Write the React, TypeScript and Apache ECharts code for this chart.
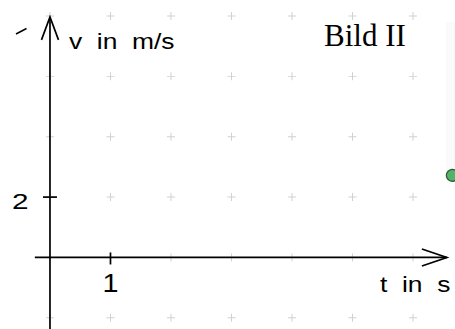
import React, { useEffect, useRef } from "react";
import * as echarts from "echarts";

// Dot-grid values (t in s, v in m/s)
const gridT = [0, 1, 2, 3, 4, 5, 6];
const gridV = [-2, 0, 2, 4, 6, 8];
// Visible window of the coordinate system
const tRange = [-0.826, 6.694];
const vRange = [-2.37, 8.53];
// Axis line extents
const tAxisExtent = [-0.25, 6.56];
const vAxisExtent = [-2.4, 7.97];
// Labelled ticks
const tTicks = [1];
const vTicks = [2];
// The green point
const pointT = [6.65];
const pointV = [2.72];

const xTitle = "t  in  s";
const yTitle = "v  in  m/s";
const caption = "Bild II";

const PLUS = "path://M-0.12,-1H0.12V-0.12H1V0.12H0.12V1H-0.12V0.12H-1V-0.12H-0.12Z";
const SANS = "'Liberation Sans', Arial, sans-serif";

export default function App() {
  const ref = useRef<HTMLDivElement>(null);
  useEffect(() => {
    if (!ref.current) return;
    const chart = echarts.init(ref.current, undefined, { renderer: "svg" });
    const crosses: number[][] = [];
    gridT.forEach((t) => gridV.forEach((v) => crosses.push([t, v])));
    chart.setOption({
      animation: false,
      grid: { left: 0, right: 0, top: 0, bottom: 0 },
      xAxis: { type: "value", min: tRange[0], max: tRange[1], show: false },
      yAxis: { type: "value", min: vRange[0], max: vRange[1], show: false },
      series: [
        {
          type: "scatter",
          data: crosses,
          symbol: PLUS,
          symbolSize: 8,
          itemStyle: { color: "#c4c4c4" },
          silent: true,
          z: 1,
        },
        {
          type: "line",
          data: [[tAxisExtent[0], 0], [tAxisExtent[1], 0]],
          showSymbol: false,
          lineStyle: { color: "#000", width: 1.7 },
          silent: true,
          z: 2,
        },
        {
          type: "line",
          data: [[0, vAxisExtent[0]], [0, vAxisExtent[1]]],
          showSymbol: false,
          lineStyle: { color: "#000", width: 1.7 },
          silent: true,
          z: 2,
        },
        {
          type: "scatter",
          data: pointT.map((t, i) => [t, pointV[i]]),
          symbol: "circle",
          symbolSize: 12,
          clip: false,
          itemStyle: { color: "#27a244", borderColor: "#173d1f", borderWidth: 1.2 },
          silent: true,
          z: 5,
        },
      ],
    });

    const px = (t: number, v: number) => chart.convertToPixel({ gridIndex: 0 }, [t, v]) as number[];
    const graphics: any[] = [];
    const line = (pts: number[][], w = 1.7) => ({
      type: "polyline",
      shape: { points: pts },
      style: { stroke: "#000", lineWidth: w, fill: null },
      z: 10,
    });
    const text = (s: string, x: number, y: number, font: string, align: string, sx = 1) => ({
      type: "text",
      x,
      y,
      scaleX: sx,
      style: { text: s, font, fill: "#000", textAlign: align, textVerticalAlign: "middle" },
      z: 10,
    });
    // x-axis arrowhead
    const xt = px(tAxisExtent[1], 0);
    graphics.push(line([[xt[0] - 25, xt[1] - 8.5], xt, [xt[0] - 25, xt[1] + 8.5]]));
    // y-axis arrowhead
    const yt = px(0, vAxisExtent[1]);
    graphics.push(line([[yt[0] - 8.5, yt[1] + 23], yt, [yt[0] + 8.5, yt[1] + 23]]));
    // ticks and their labels
    tTicks.forEach((t) => {
      const p = px(t, 0);
      graphics.push(line([[p[0], p[1] - 5], [p[0], p[1] + 7]]));
      graphics.push(text(String(t), p[0], p[1] + 26, `25px ${SANS}`, "center", 1.15));
    });
    vTicks.forEach((v) => {
      const p = px(0, v);
      graphics.push(line([[p[0] - 7, p[1]], [p[0] + 7, p[1]]]));
      graphics.push(text(String(v), 12, p[1] + 4.5, `22px ${SANS}`, "left", 1.35));
    });
    // axis titles
    graphics.push(text(yTitle, 69, 41.3, `22px ${SANS}`, "left", 1.2));
    graphics.push(text(xTitle, 380, 284, `22px ${SANS}`, "left", 1.2));
    graphics.push(text(caption, 324, 35.6, `31px 'Liberation Serif', 'Times New Roman', serif`, "left"));
    // faint panel at right edge
    graphics.push({
      type: "rect",
      shape: { x: 446, y: 22, width: 12, height: 158 },
      style: { fill: "#fafafa" },
      z: 0,
    });
    // stray stroke at top-left
    graphics.push(line([[16, 34], [26.5, 28.5]], 1.5));
    chart.setOption({ graphic: graphics });
    return () => chart.dispose();
  }, []);
  return <div ref={ref} style={{ position: "fixed", left: 0, top: 0, width: 455, height: 329, background: "#fff" }} />;
}
